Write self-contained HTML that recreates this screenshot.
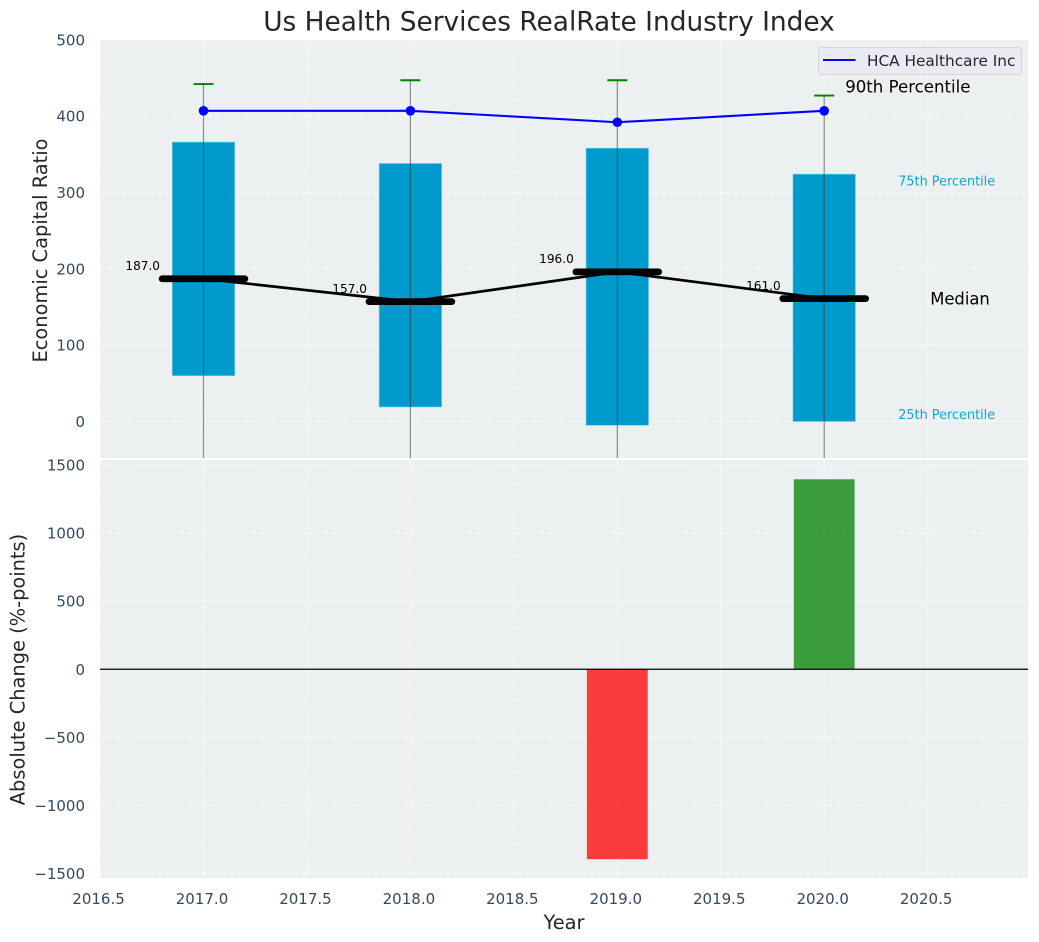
<!DOCTYPE html>
<html>
<head>
<meta charset="utf-8">
<title>Us Health Services RealRate Industry Index</title>
<style>
html,body{margin:0;padding:0;background:#fff;}
svg{display:block;font-family:"DejaVu Sans","Liberation Sans",sans-serif;}
</style>
</head>
<body>
<svg id="chart" xmlns="http://www.w3.org/2000/svg" width="1039" height="942" viewBox="0 0 1039 942"></svg>
<script>
const years = [2017, 2018, 2019, 2020];
const p90 = [442, 447, 447, 427];
const p75 = [366, 338, 358, 324];
const median = [187, 157, 196, 161];
const p25 = [60, 19, -5, 0];
const p10 = [-120, -120, -120, -120];
const company = [407, 407, 392, 407];
const change = [0, 0, -1395, 1395];
const xTicks = [2016.5, 2017, 2017.5, 2018, 2018.5, 2019, 2019.5, 2020, 2020.5];
const topTicks = [0, 100, 200, 300, 400, 500];
const bottomTicks = [-1500, -1000, -500, 0, 500, 1000, 1500];

const svg = document.getElementById('chart');
const NS = 'http://www.w3.org/2000/svg';
const L = 100, R = 1028, TT = 40, TB = 458, BT = 460, BB = 878;
const xS = v => 203.5 + (v - 2017) * 206.9;
const yT = v => 421.5 - v * 0.7634;
const yB = v => 669.25 - v * 0.13617;

function mk(tag, attrs, name, parent) {
  const el = document.createElementNS(NS, tag);
  for (const k in attrs) el.setAttribute(k, attrs[k]);
  
  
  (parent || svg).appendChild(el);
  return el;
}
function txt(s, attrs, name, parent) {
  const el = mk('text', attrs, name, parent);
  el.textContent = s;
  return el;
}
const grid = {stroke:'#ffffff', 'stroke-width':1, 'stroke-dasharray':'5 2.2', opacity:0.8};
const tickStyle = {fill:'#34495e', 'font-size':15};
const minus = v => String(v).replace('-', '\u2212');

const defs = mk('defs', {}, 'clip-definitions');
const c1 = mk('clipPath', {id:'clipTop'}, 'top-clip', defs);
mk('rect', {x:L, y:TT, width:R-L, height:TB-TT}, 'top-clip-rect', c1);
const c2 = mk('clipPath', {id:'clipBottom'}, 'bottom-clip', defs);
mk('rect', {x:L, y:BT, width:R-L, height:BB-BT}, 'bottom-clip-rect', c2);

/* Title and axis labels */
txt('Us Health Services RealRate Industry Index', {x:549, y:30.5, 'text-anchor':'middle', 'font-size':26.4, fill:'#262626'}, 'chart-title');
txt('Economic Capital Ratio', {transform:'translate(47,250.5) rotate(-90)', 'text-anchor':'middle', 'font-size':19.4, fill:'#262626'}, 'top-y-axis-title');
txt('Absolute Change (%-points)', {transform:'translate(24.5,669.5) rotate(-90)', 'text-anchor':'middle', 'font-size':19.4, fill:'#262626'}, 'bottom-y-axis-title');
txt('Year', {x:564, y:929, 'text-anchor':'middle', 'font-size':19.4, fill:'#262626'}, 'x-axis-title');

/* Panels */
mk('rect', {x:L, y:TT, width:R-L, height:TB-TT, fill:'#ecf0f1'}, 'top-panel-background');
mk('rect', {x:L, y:BT, width:R-L, height:BB-BT, fill:'#ecf0f1'}, 'bottom-panel-background');
const topArea = mk('g', {'clip-path':'url(#clipTop)'}, 'top-plot-area');
const botArea = mk('g', {'clip-path':'url(#clipBottom)'}, 'bottom-plot-area');

/* Grid and ticks */
xTicks.forEach(t => {
  mk('line', Object.assign({x1:xS(t), x2:xS(t), y1:TT, y2:TB}, grid), 'top-x-gridline', topArea);
  mk('line', Object.assign({x1:xS(t), x2:xS(t), y1:BT, y2:BB}, grid), 'bottom-x-gridline', botArea);
  txt(t.toFixed(1), Object.assign({x:xS(t)-1.5, y:904, 'text-anchor':'middle'}, tickStyle), 'x-tick-label');
});
topTicks.forEach(t => {
  mk('line', Object.assign({x1:L, x2:R, y1:yT(t), y2:yT(t)}, grid), 'top-y-gridline', topArea);
  txt(minus(t), Object.assign({x:85, y:yT(t)+5.5, 'text-anchor':'end'}, tickStyle), 'top-y-tick-label');
});
bottomTicks.forEach(t => {
  mk('line', Object.assign({x1:L, x2:R, y1:yB(t), y2:yB(t)}, grid), 'bottom-y-gridline', botArea);
  txt(minus(t), Object.assign({x:85, y:yB(t)+5.5, 'text-anchor':'end'}, tickStyle), 'bottom-y-tick-label');
});

/* Top panel marks */
const half = 0.151;
years.forEach((y, i) => {
  mk('rect', {x:xS(y-half), y:yT(p75[i]), width:xS(y+half)-xS(y-half), height:yT(p25[i])-yT(p75[i]), fill:'#009acd', stroke:'#7fcce6', 'stroke-width':0.6}, 'iqr-bar-'+y, topArea);
});
years.forEach((y, i) => {
  mk('line', {x1:xS(y), x2:xS(y), y1:yT(p90[i]), y2:yT(p10[i]), stroke:'#333333', 'stroke-opacity':0.55, 'stroke-width':1.2}, 'percentile-whisker-'+y, topArea);
  mk('line', {x1:xS(y)-10, x2:xS(y)+10, y1:yT(p90[i]), y2:yT(p90[i]), stroke:'#008000', 'stroke-width':1.9}, 'p90-cap-'+y, topArea);
  txt(median[i].toFixed(1), {x:xS(y)-43.5, y:yT(median[i])-8.8, 'text-anchor':'end', 'font-size':12.1, fill:'#000'}, 'median-value-'+y, topArea);
});
mk('polyline', {points:years.map((y,i)=>xS(y)+','+yT(median[i])).join(' '), fill:'none', stroke:'#000', 'stroke-width':2.7}, 'median-line', topArea);
years.forEach((y, i) => {
  mk('line', {x1:xS(y-0.2), x2:xS(y+0.2), y1:yT(median[i]), y2:yT(median[i]), stroke:'#000', 'stroke-width':6.8, 'stroke-linecap':'round'}, 'median-marker-'+y, topArea);
});
mk('polyline', {points:years.map((y,i)=>xS(y)+','+yT(company[i])).join(' '), fill:'none', stroke:'#0000ff', 'stroke-width':2.1}, 'company-line', topArea);
years.forEach((y, i) => {
  mk('circle', {cx:xS(y), cy:yT(company[i]), r:4.8, fill:'#0000ff'}, 'company-point-'+y, topArea);
});

/* Percentile annotations anchored to the last year */
const last = years.length - 1;
const lastX = xS(years[last]);
txt('90th Percentile', {x:lastX+21, y:yT(p90[last])-3.2, 'font-size':16.6, fill:'#000'}, 'p90-annotation', topArea);
txt('75th Percentile', {x:lastX+74, y:yT(p75[last])+11.5, 'font-size':12.85, fill:'#15a3d2'}, '75th-percentile-annotation', topArea);
txt('Median', {x:lastX+106, y:yT(median[last])+5.8, 'font-size':16.4, fill:'#000'}, 'median-annotation', topArea);
txt('25th Percentile', {x:lastX+74, y:yT(p25[last])-2.3, 'font-size':12.85, fill:'#15a3d2'}, '25th-percentile-annotation', topArea);

/* Bottom panel marks */
years.forEach((y, i) => {
  if (change[i] === 0) return;
  const a = yB(Math.max(change[i], 0)), b = yB(Math.min(change[i], 0));
  mk('rect', {x:xS(y-0.147), y:a, width:xS(y+0.147)-xS(y-0.147), height:b-a, fill:change[i] < 0 ? '#ff0000' : '#008000', 'fill-opacity':0.75}, 'change-bar-'+y, botArea);
});
mk('line', {x1:L, x2:R, y1:yB(0), y2:yB(0), stroke:'#000', 'stroke-width':1.3}, 'zero-line', botArea);

/* Legend */
const legend = mk('g', {}, 'legend');
mk('rect', {x:818.5, y:47.5, width:203, height:27, rx:3, fill:'#eaeaf2', 'fill-opacity':0.9, stroke:'#d6d6d8', 'stroke-width':1}, 'legend-box', legend);
mk('line', {x1:823, x2:855.5, y1:60, y2:60, stroke:'#0000ff', 'stroke-width':2}, 'legend-line', legend);
txt('HCA Healthcare Inc', {x:867, y:66, 'font-size':15.3, fill:'#262626'}, 'legend-label', legend);
</script>
</body>
</html>
